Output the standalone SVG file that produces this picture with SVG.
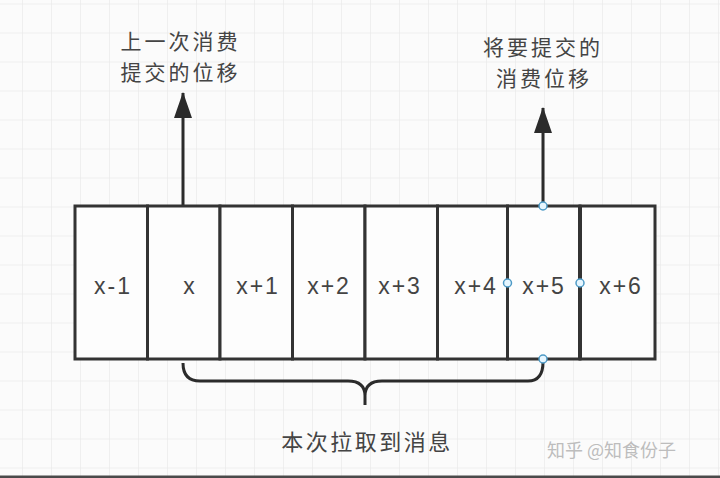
<svg xmlns="http://www.w3.org/2000/svg" width="720" height="478" viewBox="0 0 720 478">
  <defs>
    <pattern id="grid" x="22" y="3.5" width="29" height="29" patternUnits="userSpaceOnUse">
      <path d="M0 0 H29 M0 0 V29" fill="none" stroke="#e4e4e4" stroke-width="1"/>
    </pattern>
    <marker id="arrBig" viewBox="0 0 26 18" refX="25" refY="9" markerWidth="26" markerHeight="18" markerUnits="userSpaceOnUse" orient="auto">
      <path d="M0 0 L26 9 L0 18 Z" fill="#2b2b2b"/>
    </marker>
  </defs>
  <style>
    .cell { fill: #fdfdfd; stroke: #333; stroke-width: 3; }
    .lbl { font-family: "Liberation Sans", "Noto Sans", sans-serif; font-size: 23px; letter-spacing: 2px; fill: #444; text-anchor: middle; dominant-baseline: central; }
    .cjk { font-family: "Noto Sans CJK SC", "Noto Sans", sans-serif; font-size: 21px; letter-spacing: 3px; fill: #444; text-anchor: middle; }
    .cjkb { font-family: "Noto Sans CJK SC", "Noto Sans", sans-serif; font-size: 22px; letter-spacing: 2.5px; fill: #444; text-anchor: middle; }
    .conn { fill: none; stroke: #2b2b2b; stroke-width: 3; }
    .handle { fill: #e6f6ff; stroke: #4d9ac6; stroke-width: 1.5; }
    .wm { font-family: "Noto Sans CJK SC", sans-serif; font-size: 18px; fill: #bdbdbd; }
  </style>

  <rect x="0" y="0" width="720" height="478" fill="#fbfbfb"/>
  <rect x="0" y="0" width="720" height="478" fill="url(#grid)"/>
  <rect x="0" y="475.5" width="720" height="2.5" fill="#4a4a4a"/>

  <g id="connectors">
    <path class="conn" d="M183 206 V93" marker-end="url(#arrBig)"/>
    <path class="conn" d="M543 206 V108" marker-end="url(#arrBig)"/>
    <path class="conn" d="M183 363 Q183 381 200 381 L348 381 Q365 381 365 396 L365 405 M365 396 Q365 381 382 381 L528 381 Q543 381 543 362"/>
  </g>

  <g id="cell-x-1"><rect class="cell" x="75" y="206" width="72.5" height="153"/><text class="lbl" x="113" y="286">x-1</text></g>
  <g id="cell-x"><rect class="cell" x="147.5" y="206" width="72.5" height="153"/><text class="lbl" x="190" y="286">x</text></g>
  <g id="cell-x1"><rect class="cell" x="220" y="206" width="72.5" height="153"/><text class="lbl" x="258" y="286">x+1</text></g>
  <g id="cell-x2"><rect class="cell" x="292.5" y="206" width="72.5" height="153"/><text class="lbl" x="329" y="286">x+2</text></g>
  <g id="cell-x3"><rect class="cell" x="365" y="206" width="72.5" height="153"/><text class="lbl" x="400" y="286">x+3</text></g>
  <g id="cell-x4"><rect class="cell" x="437.5" y="206" width="70" height="153"/><text class="lbl" x="476" y="286">x+4</text></g>
  <g id="cell-x5"><rect class="cell" x="507.5" y="206" width="72.5" height="153"/><text class="lbl" x="544" y="286">x+5</text></g>
  <g id="cell-x6"><rect class="cell" x="580" y="206" width="75" height="153"/><text class="lbl" x="621" y="286">x+6</text>
    <line x1="580" y1="206" x2="580" y2="359" stroke="#333" stroke-width="4"/></g>

  <g id="handles">
    <circle class="handle" cx="543" cy="206" r="4"/>
    <circle class="handle" cx="507.5" cy="283" r="4"/>
    <circle class="handle" cx="580" cy="283" r="4"/>
    <circle class="handle" cx="543" cy="359" r="4"/>
  </g>

  <g id="label-last-commit">
    <text class="cjk" x="180.5" y="49">上一次消费</text>
    <text class="cjk" x="180.5" y="80">提交的位移</text>
  </g>
  <g id="label-next-commit">
    <text class="cjk" x="543" y="55">将要提交的</text>
    <text class="cjk" x="544" y="86">消费位移</text>
  </g>
  <g id="label-fetched">
    <text class="cjkb" x="367" y="450">本次拉取到消息</text>
  </g>
  <text class="wm" x="547" y="457">知乎 @知食份子</text>
</svg>
